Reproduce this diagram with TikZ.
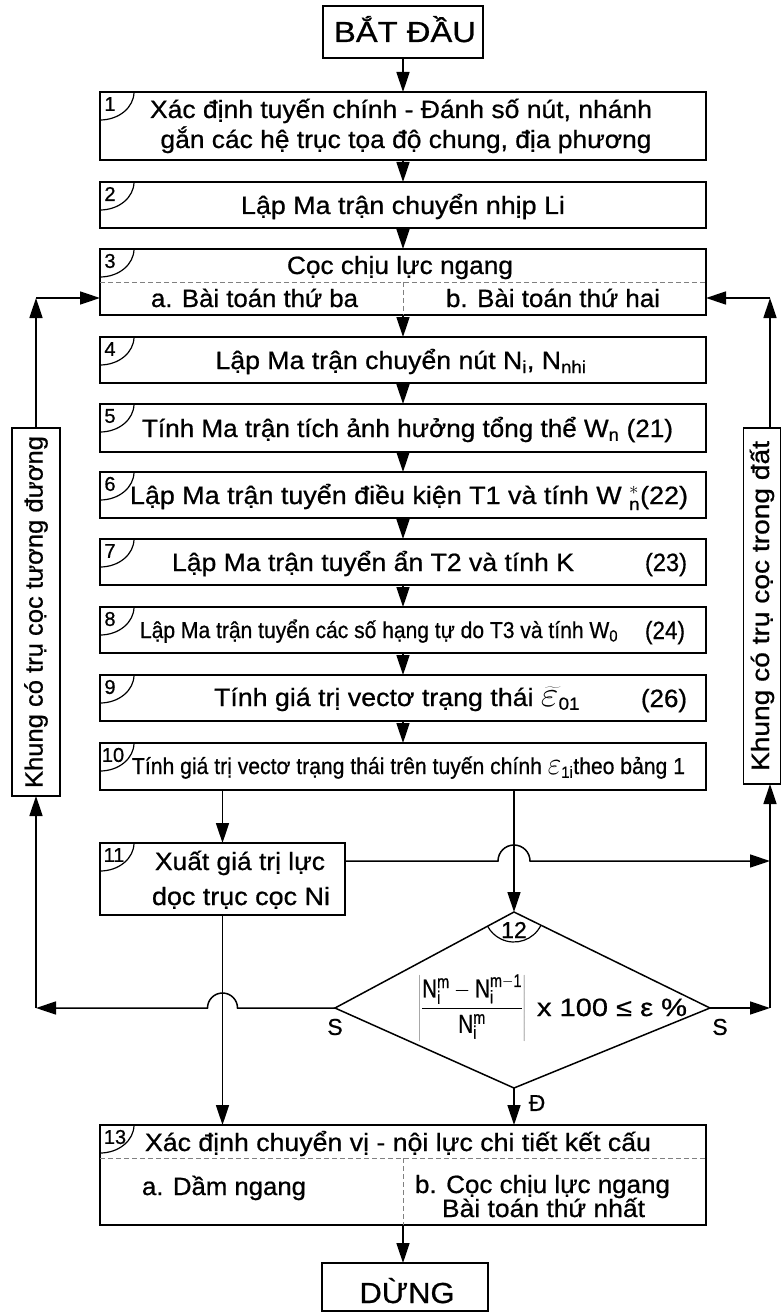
\RequirePackage{fix-cm}
\documentclass[tikz,border=0pt]{standalone}
\usepackage{fontspec}
\setmainfont{Liberation Sans}[FakeBold=0.7]
\setsansfont{Liberation Sans}[FakeBold=0.7]
\usepackage{graphicx}
\usetikzlibrary{arrows.meta}
\newcommand\fitw[2]{\resizebox{#1}{\height}{#2}}
\newcommand\fsz[1]{\fontsize{#1}{#1}\selectfont}
\tikzset{
  box/.style={draw, line width=1.7pt, inner sep=0pt, outer sep=0pt},
  ln/.style={line width=1.5pt},
  thinln/.style={line width=1.2pt},
  arr/.style={line width=1.5pt, -{Triangle[length=20pt,width=13pt]}},
  dsh/.style={draw=gray, line width=0.9pt, dash pattern=on 5pt off 3pt},
  txt/.style={font=\fsz{25}, inner sep=0pt, anchor=base},
  num/.style={font=\fsz{20}, inner sep=0pt},
}
\newcommand\numcorner[3][10pt]{%
  \draw[thinln] ([xshift=34pt]#2.north west) arc[start angle=0,end angle=-90,x radius=34pt,y radius=28pt];
  \node[num] (n#3) at ([xshift=#1,yshift=-12pt]#2.north west) {#3};}
\begin{document}
\begin{tikzpicture}[x=1pt,y=-1pt]
\fill[white] (0,0) rectangle (782,1313);
\useasboundingbox (0,0) rectangle (782,1313);

% boxes
\node[box, minimum width=160pt, minimum height=52pt] (start) at (403,32) {};
\node[box, minimum width=606pt, minimum height=68pt] (b1) at (403,126) {};
\node[box, minimum width=606pt, minimum height=46pt] (b2) at (403,205) {};
\node[box, minimum width=606pt, minimum height=66pt] (b3) at (403,282) {};
\node[box, minimum width=606pt, minimum height=46pt] (b4) at (403,360) {};
\node[box, minimum width=606pt, minimum height=48pt] (b5) at (403,428) {};
\node[box, minimum width=606pt, minimum height=46pt] (b6) at (403,495) {};
\node[box, minimum width=606pt, minimum height=46pt] (b7) at (403,562) {};
\node[box, minimum width=606pt, minimum height=46pt] (b8) at (403,630) {};
\node[box, minimum width=606pt, minimum height=46pt] (b9) at (403,698) {};
\node[box, minimum width=606pt, minimum height=47pt] (b10) at (403,766.5) {};
\node[box, minimum width=245pt, minimum height=72pt] (b11) at (222.5,879) {};
\node[box, minimum width=606pt, minimum height=100pt] (b13) at (403,1175) {};
\node[box, minimum width=166pt, minimum height=48pt] (stop) at (405,1287) {};
\node[box, minimum width=48pt, minimum height=368pt] (lbox) at (36,612)
  {\rotatebox{90}{\fsz{25}\fitw{352pt}{Khung có trụ cọc tương đương}}};
\node[box, minimum width=37pt, minimum height=356pt] (rbox) at (762,606)
  {\rotatebox{90}{\fsz{25}\fitw{330pt}{Khung có trụ cọc trong đất}}};

% dashed dividers
\draw[dsh] (b3.west) -- (b3.east);
\draw[dsh] (b3.center) -- (b3.south);
\coordinate (d13) at (403,1158);
\draw[dsh] (d13 -| b13.west) -- (d13 -| b13.east);
\draw[dsh] (d13) -- (b13.south);

% corner numbers
\numcorner{b1}{1}
\numcorner{b2}{2}
\numcorner{b3}{3}
\numcorner{b4}{4}
\numcorner{b5}{5}
\numcorner{b6}{6}
\numcorner{b7}{7}
\numcorner{b8}{8}
\numcorner{b9}{9}
\numcorner[13pt]{b10}{10}
\numcorner[14pt]{b11}{11}
\numcorner[15pt]{b13}{13}

% texts
\node[txt, font=\fsz{29}] (t0) at (405,42) {\fitw{142pt}{BẮT ĐẦU}};
\node[txt] (t1a) at (401,118) {\fitw{502pt}{Xác định tuyến chính - Đánh số nút, nhánh}};
\node[txt] (t1b) at (406,148) {\fitw{491pt}{gắn các hệ trục tọa độ chung, địa phương}};
\node[txt] (t2) at (403,214) {\fitw{324pt}{Lập Ma trận chuyển nhịp Li}};
\node[txt] (t3) at (400,274) {\fitw{226pt}{Cọc chịu lực ngang}};
\node[txt] (t3a) at (254.5,307) {\fitw{207pt}{a. Bài toán thứ ba}};
\node[txt] (t3b) at (553,307) {\fitw{214pt}{b. Bài toán thứ hai}};
\node[txt] (t4) at (401,369) {\fitw{371pt}{Lập Ma trận chuyển nút N\textsubscript{i}, N\textsubscript{nhi}}};
\node[txt] (t5) at (407.5,437) {\fitw{531pt}{Tính Ma trận tích ảnh hưởng tổng thể W\textsubscript{n} (21)}};
\node[txt] (t6) at (409,504) {\fitw{558pt}{Lập Ma trận tuyển điều kiện T1 và tính W $^{*}_{\mathrm{n}}$(22)}};
\node[txt] (t7) at (373,571) {\fitw{402pt}{Lập Ma trận tuyển ẩn T2 và tính K}};
\node[txt] (t7n) at (666,571) {\fitw{42pt}{(23)}};
\node[txt, font=\fsz{23}] (t8) at (379,638) {\fitw{478pt}{Lập Ma trận tuyển các số hạng tự do T3 và tính W\textsubscript{0}}};
\node[txt] (t8n) at (665,639) {\fitw{40pt}{(24)}};
\node[txt] (t9) at (397,706) {\fitw{366pt}{Tính giá trị vectơ trạng thái {\fsz{36}$\widetilde{\varepsilon}$}$_{\mathrm{01}}$}};
\node[txt] (t9n) at (664,707) {\fitw{46pt}{(26)}};
\node[txt, font=\fsz{23}] (t10) at (408.5,774) {\fitw{553pt}{Tính giá trị vectơ trạng thái trên tuyến chính {\fsz{32}$\varepsilon$}$_{\mathrm{1i}}$theo bảng 1}};
\node[txt] (t11a) at (240,870) {\fitw{170pt}{Xuất giá trị lực}};
\node[txt] (t11b) at (241,905) {\fitw{178pt}{dọc trục cọc Ni}};
\node[txt] (t13) at (398,1151) {\fitw{506pt}{Xác định chuyển vị - nội lực chi tiết kết cấu}};
\node[txt] (t13a) at (224,1195) {\fitw{164pt}{a. Dầm ngang}};
\node[txt] (t13b) at (542.5,1193) {\fitw{255pt}{b. Cọc chịu lực ngang}};
\node[txt] (t13c) at (543.5,1217) {\fitw{203pt}{Bài toán thứ nhất}};
\node[txt, font=\fsz{29}] (tstop) at (407,1303) {\fitw{95pt}{DỪNG}};

% decision diamond
\coordinate (dtop) at (514,912);
\coordinate (dleft) at (335,1008);
\coordinate (dright) at (710,1008);
\coordinate (dbot) at (514,1088);
\draw[ln] (dtop) -- (dright) -- (dbot) -- (dleft) -- cycle;
\draw[thinln] (dtop) ++(-26:30pt) arc[start angle=-26,end angle=-152,radius=30pt];
\node[font=\fsz{23}, inner sep=0pt] (n12) at (514,930) {12};
\node[font=\fsz{26}, inner sep=0pt] (f1) at (472,1008)
  {\fitw{107pt}{$\left|\displaystyle\frac{\mathrm{N_i^m - N_i^{m-1}}}{\mathrm{N_i^m}}\right|$}};
\node[txt] (f2) at (612,1016) {\fitw{150pt}{x 100 ≤ ε \%}};
\node[font=\fsz{23}, inner sep=0pt] (sl) at (335,1027) {S};
\node[font=\fsz{23}, inner sep=0pt] (sr) at (720,1027) {S};
\node[font=\fsz{23}, inner sep=0pt] (dd) at (537,1103) {Đ};

% helper coordinates
\coordinate (lc) at (36,1008);
\coordinate (lcorner) at (36,298);
\coordinate (rc) at (770,1008);
\coordinate (rcorner) at (770,298);
\coordinate (r11) at (770,861);
\coordinate (j1a) at (498,861);
\coordinate (j2a) at (237.5,1008);

% main flow
\draw[arr] (start.south) -- (b1.north);
\draw[arr] (b1.south) -- (b2.north);
\draw[arr] (b2.south) -- (b3.north);
\draw[arr] (b3.south) -- (b4.north);
\draw[arr] (b4.south) -- (b5.north);
\draw[arr] (b5.south) -- (b6.north);
\draw[arr] (b6.south) -- (b7.north);
\draw[arr] (b7.south) -- (b8.north);
\draw[arr] (b8.south) -- (b9.north);
\draw[arr] (b9.south) -- (b10.north);
\draw[arr] (b11.north |- b10.south) -- (b11.north);
\draw[arr] (b10.south -| dtop) -- (dtop);
\draw[arr] (b11.east |- r11) -- (j1a) arc[start angle=180,end angle=0,radius=16pt] -- (r11);
\draw[arr] (dleft) -- (j2a) arc[start angle=0,end angle=180,radius=15pt] -- (lc);
\draw[arr] (dright) -- (rc);
\draw[arr] (lc) -- (lbox.south);
\draw[arr] (lbox.north) -- (lcorner);
\draw[arr] (lcorner) -- (lcorner -| b3.west);
\draw[arr] (rc) -- (rc |- rbox.south);
\draw[arr] (rc |- rbox.north) -- (rcorner);
\draw[arr] (rcorner) -- (rcorner -| b3.east);
\draw[arr] (b11.south) -- (b11.south |- b13.north);
\draw[arr] (dbot) -- (dbot |- b13.north);
\draw[arr] (b13.south) -- (b13.south |- stop.north);
\end{tikzpicture}
\end{document}
